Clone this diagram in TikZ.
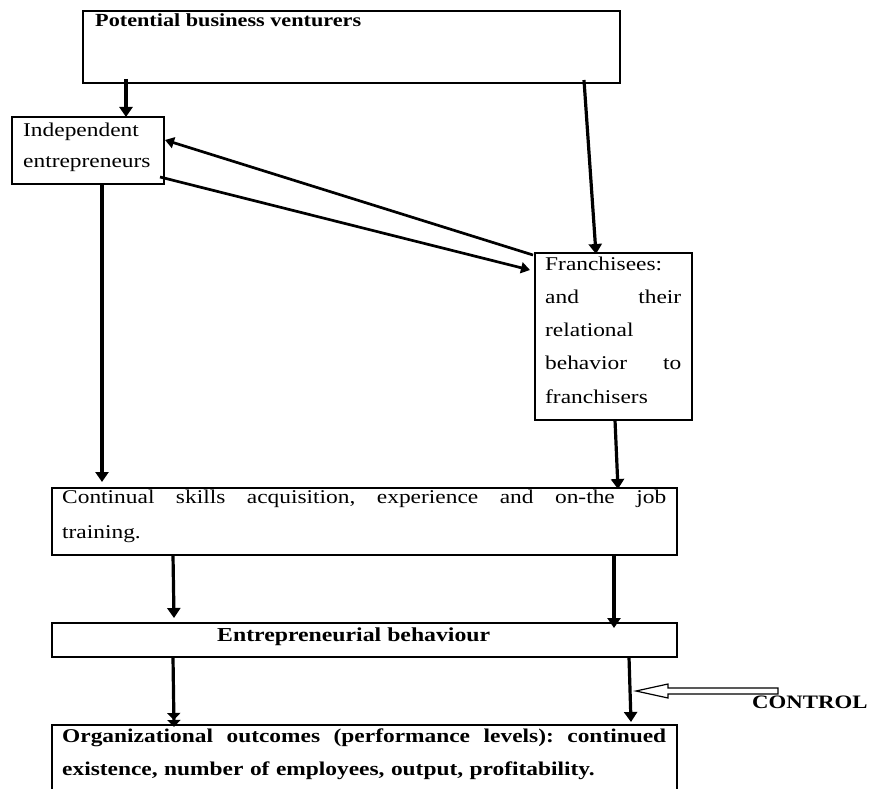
\documentclass[tikz,border=0pt]{standalone}
\usepackage{fontspec}
\setmainfont{Liberation Serif}[FakeStretch=1.2]
\usetikzlibrary{arrows.meta,calc}
\begin{document}
\begin{tikzpicture}[x=1pt,y=-1pt,
  box/.style={draw, line width=1.5pt, inner sep=0pt, outer sep=0pt, anchor=north west},
  lbl/.style={inner sep=0pt, anchor=base west, align=left},
  conn/.style={line width=3.2pt, -{Triangle[length=10pt,width=13pt]}},
  diag/.style={line width=2.7pt, -{Triangle[length=9pt,width=11pt]}},
  dconn/.style={line width=3.2pt, -{Triangle[length=7pt,width=13pt]Triangle[length=7pt,width=13pt]}}
]
\useasboundingbox (0,0) rectangle (873,789);
\fill[white] (0,0) rectangle (873,789);

% boxes
\node[box, minimum width=537pt, minimum height=72pt] (pot) at (83,11) {};
\node[box, minimum width=152pt, minimum height=67pt] (ind) at (12,117) {};
\node[box, minimum width=157pt, minimum height=167pt] (fra) at (535,253) {};
\node[box, minimum width=625pt, minimum height=67pt] (cont) at (52,488) {};
\node[box, minimum width=625pt, minimum height=34pt] (ent) at (52,623) {};
\node[box, minimum width=625pt, minimum height=70pt] (org) at (52,725) {};

% texts
\node[lbl, font=\bfseries\fontsize{18.5}{22}\selectfont] (tpot) at (95,27) {Potential business venturers};
\node[lbl, font=\fontsize{19.5}{31}\selectfont, text width=140pt] (tind) at (23,137) {Independent\\entrepreneurs};
\node[lbl, font=\fontsize{19.5}{33.3}\selectfont, text width=136pt] (tfra) at (545,270)
  {Franchisees:\\and\hfill their\\relational\\behavior\hfill to\\franchisers};
\node[lbl, font=\fontsize{19.5}{35}\selectfont, text width=604pt] (tcont) at (62,503)
  {Continual\hfill skills\hfill acquisition,\hfill experience\hfill and\hfill on-the\hfill job\\training.};
\node[lbl, font=\bfseries\fontsize{19.8}{22}\selectfont] (tent) at (217,641) {Entrepreneurial behaviour};
\node[lbl, font=\bfseries\fontsize{19.5}{33}\selectfont, text width=604pt] (torg) at (62,742)
  {Organizational\hfill outcomes\hfill (performance\hfill levels):\hfill continued\\existence, number of employees, output, profitability.};
\node[lbl, font=\bfseries\fontsize{19}{22}\selectfont] (ctrl) at (752,708) {CONTROL};

% connectors
\draw[conn] ($(pot.south west)+(43,-4)$) -- ($(ind.north west)+(114,0)$);
\draw[conn] ($(pot.south west)+(501,-3)$) -- ($(fra.north west)+(61,1)$);
\draw[diag] ($(fra.north west)+(-2,2)$) -- ($(ind.north east)+(1,23)$);
\draw[diag] ($(ind.north east)+(-4,60)$) -- ($(fra.north west)+(-5,17)$);
\draw[conn] ($(ind.south west)+(90,0)$) -- ($(cont.north west)+(50,-6)$);
\draw[conn] ($(fra.south west)+(80,0)$) -- ($(cont.north west)+(566,1)$);
\draw[conn] ($(cont.south west)+(121,0)$) -- ($(ent.north west)+(122,-5)$);
\draw[conn] ($(cont.south west)+(562,0)$) -- ($(ent.north west)+(562,5)$);
\draw[dconn] ($(ent.south west)+(121,0)$) -- ($(org.north west)+(122,2)$);
\draw[conn] ($(ent.south west)+(577,0)$) -- ($(org.north west)+(579,-3)$);

% hollow CONTROL arrow
\draw[line width=1.2pt, fill=white, line join=miter]
  (778,688) -- (668,688) -- (668,684) -- (636,691) -- (668,698) -- (668,694) -- (778,694) -- cycle;
\end{tikzpicture}
\end{document}
